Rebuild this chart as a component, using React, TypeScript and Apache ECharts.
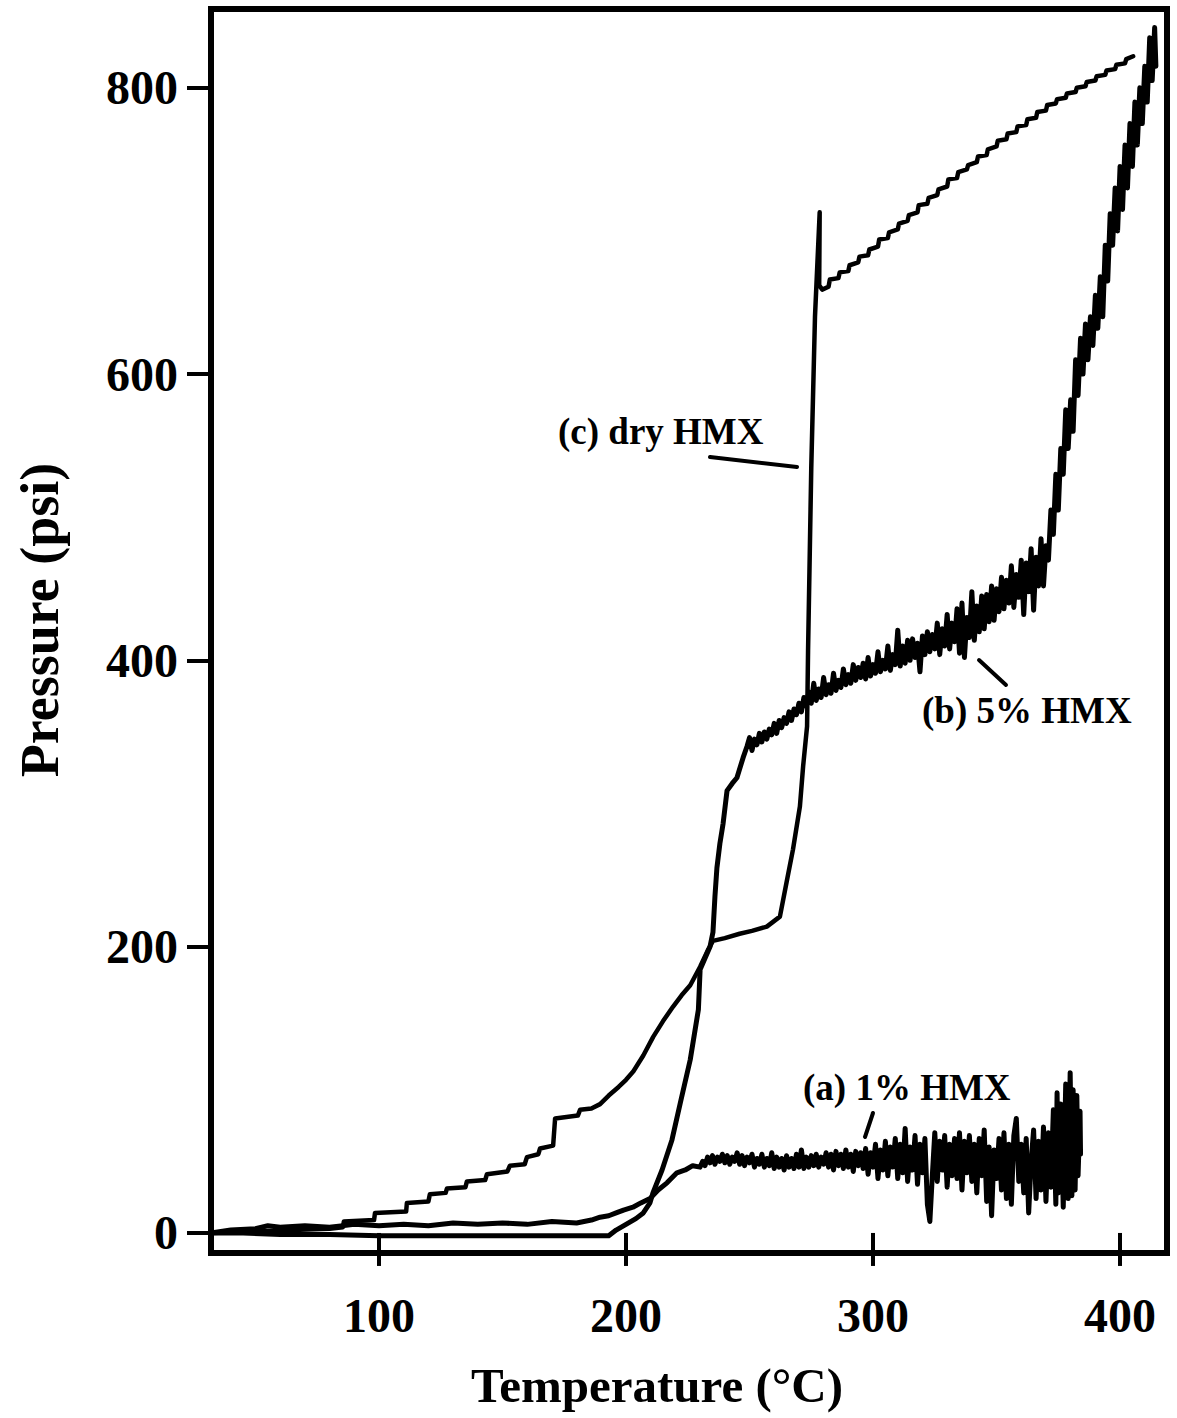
import React, { useEffect, useRef } from "react";
import * as echarts from "echarts";

// Axis ticks
const xTicks = [100, 200, 300, 400];
const yTicks = [0, 200, 400, 600, 800];

// (c) dry HMX: [temperature °C, pressure psi]
const dryHMX: [number, number][] = [
  [32, 0], [50, 1], [65, 2], [80, 3], [85.4, 4], [85.8, 8], [98, 9], [98.4, 14], [111, 15], [111.3, 21],
  [120, 22], [120.6, 27], [127, 28], [127.5, 31], [135, 32], [135.6, 36], [143, 37], [143.7, 41], [152, 43], [153, 47],
  [159, 48], [159.9, 53], [164.5, 55], [165.2, 59], [170.5, 61], [171.3, 80], [180.5, 82], [181.4, 86], [186, 87], [189.5, 90],
  [193, 96], [197, 102], [200, 107], [203, 113], [207, 124], [211, 137], [215, 148], [219, 158], [222.5, 166], [226, 173],
  [230, 186], [233, 197], [235.2, 204], [240, 206], [246, 209], [251, 211], [257, 214], [262.3, 221], [265, 245], [267.6, 268],
  [270.4, 298], [271.7, 326], [273.3, 354], [273.7, 407], [275, 535], [276.5, 640], [278.4, 713], [278.2, 662], [279.4, 659],
  [282, 661], [282.5, 666], [286, 667], [286.5, 671], [290, 672], [290.5, 676], [294, 678], [294.5, 682], [298, 683], [298.5, 687],
  [302, 689], [302.5, 694], [306, 695], [306.5, 699], [310, 701], [310.5, 705], [314, 707], [314.5, 711], [318, 713], [318.5, 718],
  [322, 719], [322.5, 723], [326, 725], [326.5, 729], [330, 731], [330.5, 736], [334, 737], [334.5, 741], [338, 743], [338.5, 746],
  [342, 748], [342.5, 752], [346, 753], [346.5, 757], [350, 759], [350.5, 763], [354, 764], [354.5, 768], [358, 769], [358.5, 773],
  [362, 774], [362.5, 778], [366, 779], [366.5, 783], [370, 784], [370.5, 788], [374, 789], [374.5, 792], [378, 793], [378.5, 796],
  [382, 797], [382.5, 800], [386, 801], [386.5, 804], [390, 805], [390.5, 808], [394, 809], [394.5, 812], [398, 813], [398.5, 816],
  [402, 817], [402.5, 820], [405.3, 822],
];

// (b) 5% HMX
const hmx5: [number, number][] = [
  [32, 0], [45, 0], [60, -1], [80, -1], [100, -2], [120, -2], [140, -2], [160, -2], [180, -2], [193, -2],
  [196, 2], [200, 6], [204, 10], [207, 14], [209.7, 21], [210.9, 28], [214.6, 44], [218.6, 65], [222, 91], [226, 121],
  [229.3, 156], [230, 184], [234, 200], [235.2, 210], [236, 235], [236.8, 255], [238, 272], [239.3, 286], [240.9, 309], [243, 314],
  [244.9, 318], [247.4, 332], [249, 340], [250, 346], [251, 337], [252, 345], [253, 341], [254, 349], [255, 343], [256, 350],
  [257, 345], [258, 352], [259, 348], [260, 356], [261, 349], [262, 358], [263, 353], [264, 360], [265, 356], [266, 364],
  [267, 358], [268, 366], [269, 362], [270, 370], [271, 364], [272, 374], [273, 368], [274, 378], [275, 370], [276, 384],
  [277, 372], [278, 380], [279, 374], [280, 388], [281, 376], [282, 383], [283, 377], [284, 391], [285, 379], [286, 386],
  [287, 381], [288, 394], [289, 383], [290, 390], [291, 384], [292, 397], [293, 386], [294, 395], [295, 388], [296, 398],
  [297, 387], [298, 402], [299, 389], [300, 397], [301, 391], [302, 406], [303, 392], [304, 400], [305, 394], [306, 410],
  [307, 393], [308, 404], [309, 397], [310, 421], [311, 396], [312, 410], [313, 398], [314, 414], [315, 400], [316, 415],
  [317, 402], [318, 412], [319, 392], [320, 417], [321, 404], [322, 420], [323, 406], [324, 418], [325, 408], [326, 426],
  [327, 404], [328, 422], [329, 410], [330, 432], [331, 408], [332, 426], [333, 413], [334, 436], [335, 405], [336, 440],
  [337, 402], [338, 430], [339, 416], [340, 448], [341, 414], [342, 438], [343, 420], [344, 445], [345, 422], [346, 446],
  [347, 427], [348, 452], [349, 428], [350, 450], [351, 434], [352, 458], [353, 436], [354, 456], [355, 440], [356, 466],
  [357, 437], [358, 460], [359, 444], [360, 470], [361, 432], [362, 468], [363, 448], [364, 478], [365, 435], [366, 472],
  [367, 452], [368, 485], [369, 452], [370, 480], [371, 470], [372, 505], [373, 488], [374, 530], [375, 505], [376, 548],
  [377, 530], [378, 575], [379, 548], [380, 582], [381, 560], [382, 610], [383, 585], [384, 625], [385, 600], [386, 635],
  [387, 610], [388, 640], [389, 620], [390, 655], [391, 632], [392, 668], [393, 640], [394, 690], [395, 665], [396, 712],
  [397, 690], [398, 730], [399, 700], [400, 745], [401, 715], [402, 760], [403, 730], [404, 775], [405, 745], [406, 790],
  [407, 760], [408, 800], [409, 775], [410, 815], [411, 790], [412, 835], [413, 805], [414, 842], [414.5, 815],
];

// (a) 1% HMX
const hmx1: [number, number][] = [
  [32, 0], [40, 2], [50, 3], [55, 5], [60, 4], [70, 5], [80, 4], [90, 6], [100, 5], [110, 6],
  [120, 5], [130, 7], [140, 6], [150, 7], [160, 6], [170, 8], [180, 7], [186, 9], [189.5, 11], [193, 12],
  [196, 14], [199, 16], [202.8, 18], [206, 21], [209.7, 24], [213, 30], [216.6, 35], [220.6, 42], [224, 44], [227, 47],
  [230, 46], [231, 50], [232, 47], [233, 53], [234, 49], [235, 54], [236, 48], [237, 53], [238, 50], [239, 55],
  [240, 49], [241, 54], [242, 48], [243, 53], [244, 50], [245, 56], [246, 48], [247, 54], [248, 47], [249, 53],
  [250, 49], [251, 55], [252, 46], [253, 52], [254, 48], [255, 55], [256, 46], [257, 52], [258, 47], [259, 56],
  [260, 45], [261, 53], [262, 46], [263, 52], [264, 44], [265, 54], [266, 46], [267, 52], [268, 45], [269, 55],
  [270, 46], [271, 58], [272, 45], [273, 53], [274, 46], [275, 54], [276, 47], [277, 55], [278, 46], [279, 53],
  [280, 48], [281, 56], [282, 46], [283, 55], [284, 44], [285, 57], [286, 47], [287, 55], [288, 45], [289, 58],
  [290, 46], [291, 55], [292, 43], [293, 57], [294, 47], [295, 56], [296, 45], [297, 59], [298, 41], [299, 56],
  [300, 46], [301, 62], [302, 38], [303, 58], [304, 44], [305, 64], [306, 40], [307, 60], [308, 46], [309, 66],
  [310, 38], [311, 62], [312, 42], [313, 73], [314, 36], [315, 60], [316, 44], [317, 68], [318, 34], [319, 62],
  [320, 42], [321, 66], [322, 20], [323, 8], [324, 40], [325, 70], [326, 36], [327, 64], [328, 44], [329, 68],
  [330, 32], [331, 62], [332, 40], [333, 66], [334, 38], [335, 70], [336, 30], [337, 64], [338, 42], [339, 68],
  [340, 36], [341, 62], [342, 28], [343, 66], [344, 40], [345, 72], [346, 22], [347, 60], [348, 12], [349, 58],
  [350, 38], [351, 66], [352, 30], [353, 70], [354, 24], [355, 62], [356, 20], [357, 68], [358, 80], [359, 36],
  [360, 62], [361, 28], [362, 66], [363, 14], [364, 50], [365, 72], [366, 24], [367, 64], [368, 30], [369, 74],
  [370, 22], [371, 70], [372, 32], [373, 86], [374, 20], [374.5, 98], [375, 28], [376, 90], [377, 18], [378, 104],
  [379, 24], [379.8, 112], [380.5, 26], [381, 100], [381.8, 30], [382.5, 96], [383, 40], [383.8, 85], [384, 55],
];

const seriesNames = ["(c) dry HMX", "(b) 5% HMX", "(a) 1% HMX"];

const FONT = "'Liberation Serif', 'Times New Roman', serif";

export default function App() {
  const ref = useRef<HTMLDivElement>(null);
  useEffect(() => {
    if (!ref.current) return;
    const chart = echarts.init(ref.current, undefined, { renderer: "svg" });
    const mkSeries = (name: string, data: [number, number][], width: number) => ({
      name,
      type: "line",
      data,
      showSymbol: false,
      symbol: "none",
      lineStyle: { color: "#000", width, join: "round", cap: "round" },
      clip: true,
      z: 3,
    });
    const label = (text: string, x: number, y: number) => ({
      type: "text",
      x,
      y,
      style: {
        text,
        fill: "#000",
        font: `bold 37px ${FONT}`,
        textAlign: "left",
        textVerticalAlign: "middle",
      },
    });
    const leader = (x1: number, y1: number, x2: number, y2: number) => ({
      type: "line",
      shape: { x1, y1, x2, y2 },
      style: { stroke: "#000", lineWidth: 4, lineCap: "round" },
    });
    chart.setOption({
      animation: false,
      backgroundColor: "#fff",
      grid: {
        left: 211,
        right: 10,
        top: 9,
        bottom: 165,
        show: true,
        borderColor: "#000",
        borderWidth: 6,
        backgroundColor: "transparent",
      },
      xAxis: {
        type: "value",
        min: 32,
        max: 419,
        axisLine: { show: false },
        splitLine: { show: false },
        axisTick: {
          show: true,
          inside: false,
          length: 33,
          customValues: xTicks,
          lineStyle: { color: "#000", width: 4 },
        },
        axisLabel: {
          customValues: xTicks,
          margin: 38,
          color: "#000",
          fontFamily: FONT,
          fontWeight: "bold",
          fontSize: 48,
        },
      },
      yAxis: {
        type: "value",
        min: -14,
        max: 855,
        axisLine: { show: false },
        splitLine: { show: false },
        axisTick: {
          show: true,
          inside: false,
          length: 24,
          customValues: yTicks,
          lineStyle: { color: "#000", width: 4 },
        },
        axisLabel: {
          customValues: yTicks,
          margin: 33,
          color: "#000",
          fontFamily: FONT,
          fontWeight: "bold",
          fontSize: 48,
        },
      },
      series: [
        mkSeries(seriesNames[0], dryHMX, 4.5),
        mkSeries(seriesNames[1], hmx5, 5),
        mkSeries(seriesNames[2], hmx1, 5),
      ],
      graphic: [
        label(seriesNames[0], 558, 431),
        leader(710, 457, 797, 467),
        label(seriesNames[1], 922, 710),
        leader(979, 660, 1006, 685),
        label(seriesNames[2], 803, 1087),
        leader(873, 1113, 865, 1137),
        {
          type: "text",
          x: 657,
          y: 1385,
          style: {
            text: "Temperature (°C)",
            fill: "#000",
            font: `bold 49px ${FONT}`,
            textAlign: "center",
            textVerticalAlign: "middle",
          },
        },
        {
          type: "text",
          x: 40,
          y: 620,
          rotation: Math.PI / 2,
          style: {
            text: "Pressure (psi)",
            fill: "#000",
            font: `bold 54px ${FONT}`,
            textAlign: "center",
            textVerticalAlign: "middle",
          },
        },
      ],
    });
    return () => chart.dispose();
  }, []);
  return (
    <div
      ref={ref}
      style={{ position: "absolute", left: 0, top: 0, width: 1177, height: 1418, background: "#fff" }}
    />
  );
}
